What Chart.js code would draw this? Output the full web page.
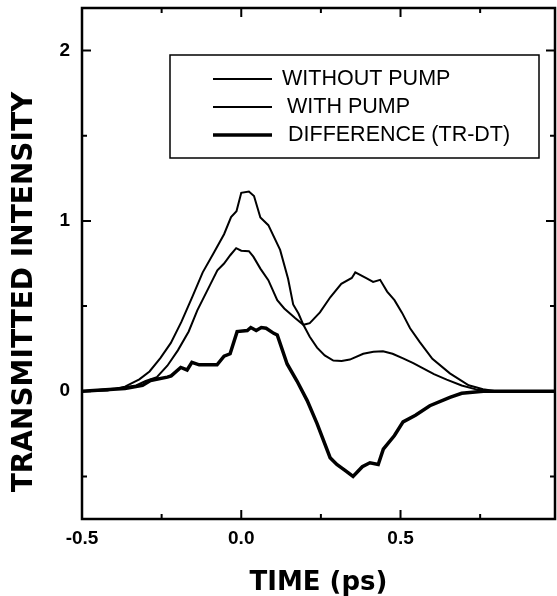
<!DOCTYPE html>
<html>
<head>
<meta charset="utf-8">
<script src="https://cdn.jsdelivr.net/npm/chart.js@4.4.1/dist/chart.umd.min.js"></script>
<style>
	body { margin: 0; background: #fff; }
	#wrap { width: 557px; height: 596px; }
</style>
</head>
<body>
<div id="wrap"><canvas id="pumpChart"></canvas></div>
<script>
// Time axis (ps) and transmitted intensity
const withoutPumpX = [-0.5, -0.42, -0.365, -0.32, -0.288, -0.254, -0.221, -0.188, -0.154, -0.121, -0.087, -0.054, -0.032, -0.015, 0.0, 0.024, 0.04, 0.06, 0.085, 0.122, 0.147, 0.163, 0.18, 0.195, 0.215, 0.238, 0.262, 0.289, 0.315, 0.341, 0.383, 0.415, 0.445, 0.475, 0.508, 0.54, 0.571, 0.605, 0.645, 0.692, 0.737, 0.78, 0.985];
const withoutPumpY = [0, 0.005, 0.027, 0.07, 0.116, 0.195, 0.284, 0.407, 0.553, 0.698, 0.81, 0.922, 1.023, 1.057, 1.165, 1.172, 1.146, 1.02, 0.975, 0.83, 0.66, 0.51, 0.455, 0.39, 0.32, 0.256, 0.21, 0.18, 0.178, 0.186, 0.22, 0.232, 0.235, 0.22, 0.193, 0.165, 0.134, 0.1, 0.068, 0.034, 0.011, 0, 0];

const withPumpX = [-0.5, -0.39, -0.33, -0.3, -0.265, -0.232, -0.199, -0.165, -0.138, -0.099, -0.075, -0.054, -0.034, -0.016, 0.0, 0.024, 0.038, 0.06, 0.085, 0.113, 0.135, 0.169, 0.195, 0.215, 0.247, 0.28, 0.314, 0.347, 0.358, 0.391, 0.414, 0.436, 0.458, 0.481, 0.505, 0.53, 0.56, 0.6, 0.655, 0.714, 0.759, 0.8, 0.985];
const withPumpY = [0, 0.016, 0.034, 0.06, 0.083, 0.15, 0.24, 0.351, 0.475, 0.62, 0.71, 0.75, 0.8, 0.84, 0.825, 0.822, 0.79, 0.72, 0.652, 0.535, 0.486, 0.43, 0.39, 0.4, 0.463, 0.553, 0.631, 0.665, 0.698, 0.665, 0.642, 0.654, 0.585, 0.535, 0.46, 0.37, 0.29, 0.19, 0.105, 0.035, 0.012, 0, 0];

const differenceX = [-0.5, -0.365, -0.31, -0.285, -0.232, -0.22, -0.19, -0.17, -0.155, -0.132, -0.076, -0.054, -0.035, -0.013, 0.019, 0.03, 0.047, 0.063, 0.078, 0.102, 0.113, 0.144, 0.175, 0.207, 0.238, 0.279, 0.3, 0.33, 0.351, 0.38, 0.404, 0.43, 0.446, 0.481, 0.508, 0.547, 0.592, 0.655, 0.692, 0.76, 0.985];
const differenceY = [0, 0.016, 0.034, 0.063, 0.083, 0.09, 0.14, 0.125, 0.17, 0.155, 0.155, 0.206, 0.22, 0.35, 0.356, 0.374, 0.357, 0.374, 0.37, 0.34, 0.33, 0.16, 0.06, -0.055, -0.19, -0.39, -0.43, -0.47, -0.5, -0.443, -0.42, -0.43, -0.34, -0.26, -0.18, -0.141, -0.085, -0.036, -0.012, 0, 0];

const seriesLabels = ["WITHOUT PUMP", "WITH PUMP", "DIFFERENCE (TR-DT)"];
const yTitle = "TRANSMITTED INTENSITY";

// tick values: labelled ones and the small unlabelled ones in between
const xMajorTicks = [-0.5, 0.0, 0.5];
const xMinorTicks = [-0.25, 0.25, 0.75];
const yMajorTicks = [0, 1, 2];
const yMinorTicks = [-0.5, 0.5, 1.5];

function toPoints(xs, ys) {
	return xs.map((x, i) => ({ x: x, y: ys[i] }));
}

function lineSet(label, xs, ys, width) {
	return {
		label: label,
		data: toPoints(xs, ys),
		borderColor: "#000",
		borderWidth: width,
		pointRadius: 0,
		tension: 0,
		fill: false,
	};
}

// box frame + inward ticks on all four sides
const frameTicks = {
	id: "frameTicks",
	afterDraw(chart) {
		const { ctx, chartArea: a, scales } = chart;
		ctx.save();
		ctx.strokeStyle = "#000";
		ctx.lineWidth = 2.5;
		ctx.strokeRect(a.left, a.top, a.right - a.left, a.bottom - a.top);
		ctx.lineWidth = 2;
		const mark = (vals, len, isX) => {
			vals.forEach((v) => {
				ctx.beginPath();
				if (isX) {
					const px = scales.x.getPixelForValue(v);
					ctx.moveTo(px, a.bottom); ctx.lineTo(px, a.bottom - len);
					ctx.moveTo(px, a.top); ctx.lineTo(px, a.top + len);
				} else {
					const py = scales.y.getPixelForValue(v);
					ctx.moveTo(a.left, py); ctx.lineTo(a.left + len, py);
					ctx.moveTo(a.right, py); ctx.lineTo(a.right - len, py);
				}
				ctx.stroke();
			});
		};
		mark(xMajorTicks, 9, true);
		mark(xMinorTicks, 5, true);
		mark(yMajorTicks, 9, false);
		mark(yMinorTicks, 5, false);

		// rotated y title, set a bit below the middle like the original
		ctx.font = "bold 28px 'DejaVu Sans'";
		ctx.fillStyle = "#000";
		ctx.textAlign = "center";
		ctx.textBaseline = "middle";
		ctx.translate(25, 292);
		ctx.rotate(-Math.PI / 2);
		ctx.fillText(yTitle, 0, 0);
		ctx.restore();
	},
};

// boxed legend in the upper right of the plot
const boxLegend = {
	id: "boxLegend",
	afterDraw(chart) {
		const ctx = chart.ctx;
		const box = { left: 170, top: 55, right: 539, bottom: 158 };
		const rowY = [79, 107, 135];
		const textX = [282, 287, 288];
		ctx.save();
		ctx.strokeStyle = "#000";
		ctx.lineWidth = 1.5;
		ctx.fillStyle = "#fff";
		ctx.fillRect(box.left, box.top, box.right - box.left, box.bottom - box.top);
		ctx.strokeRect(box.left, box.top, box.right - box.left, box.bottom - box.top);
		ctx.font = "21.5px 'Liberation Sans', Arial, sans-serif";
		ctx.textBaseline = "middle";
		ctx.fillStyle = "#000";
		chart.data.datasets.forEach((ds, i) => {
			ctx.lineWidth = ds.borderWidth;
			ctx.beginPath();
			ctx.moveTo(213, rowY[i]);
			ctx.lineTo(272, rowY[i]);
			ctx.stroke();
			ctx.fillText(ds.label, textX[i], rowY[i]);
		});
		ctx.restore();
	},
};

const config = {
	type: "line",
	data: {
		datasets: [
			lineSet(seriesLabels[0], withoutPumpX, withoutPumpY, 2),
			lineSet(seriesLabels[1], withPumpX, withPumpY, 2),
			lineSet(seriesLabels[2], differenceX, differenceY, 3.5),
		],
	},
	options: {
		responsive: true,
		maintainAspectRatio: false,
		animation: false,
		layout: { padding: { top: 8, right: 2, left: 0, bottom: 0 } },
		plugins: {
			legend: { display: false },
			tooltip: { enabled: false },
		},
		scales: {
			x: {
				type: "linear",
				min: -0.5,
				max: 0.985,
				afterBuildTicks: (s) => { s.ticks = xMajorTicks.map((v) => ({ value: v })); },
				afterFit: (s) => { s.height = 77; },
				grid: { display: false, drawTicks: false },
				border: { display: false },
				ticks: {
					color: "#000",
					padding: 8,
					maxRotation: 0,
					font: { family: "'Liberation Sans', Arial", size: 19, weight: "bold" },
					callback: (v) => Number(v).toFixed(1),
				},
				title: {
					display: true,
					text: "TIME (ps)",
					color: "#000",
					padding: { top: 0, bottom: 0 },
					font: { family: "'DejaVu Sans'", size: 26, weight: "bold", lineHeight: 1.0 },
				},
			},
			y: {
				type: "linear",
				min: -0.75,
				max: 2.25,
				afterBuildTicks: (s) => { s.ticks = yMajorTicks.map((v) => ({ value: v })); },
				afterFit: (s) => {
					s.width = 82;
					s.paddingTop = 0;
					s.paddingBottom = 0;
				},
				grid: { display: false, drawTicks: false },
				border: { display: false },
				ticks: {
					color: "#000",
					padding: 12,
					font: { family: "'Liberation Sans', Arial", size: 19, weight: "bold" },
					callback: (v) => String(v),
				},
				title: { display: false },
			},
		},
	},
	plugins: [frameTicks, boxLegend],
};

const chart = new Chart(document.getElementById("pumpChart"), config);
</script>
</body>
</html>
